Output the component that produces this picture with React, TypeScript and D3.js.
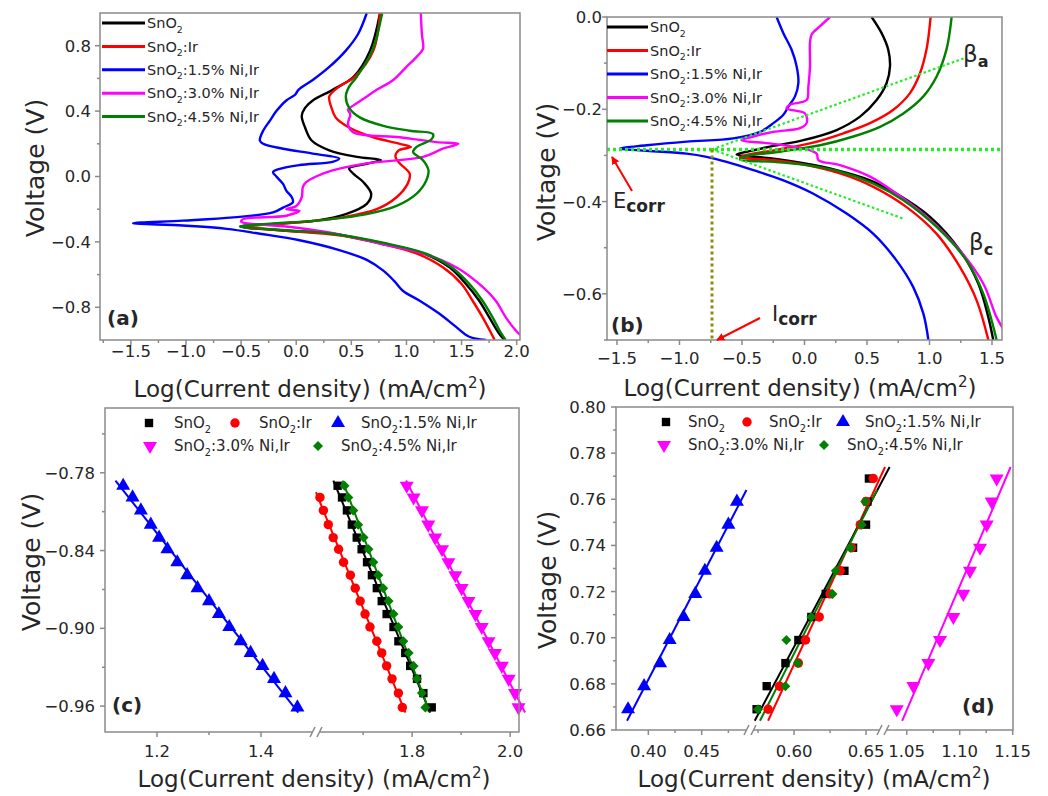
import React from "react";
import * as d3 from "d3";

type Pt = [number, number];

const FONT = "'DejaVu Sans', 'Liberation Sans', Arial, sans-serif";
const TXT = "#262626";
const AXC = "#8a8a8a";

const seriesLabels = ["SnO2", "SnO2:Ir", "SnO2:1.5% Ni,Ir", "SnO2:3.0% Ni,Ir", "SnO2:4.5% Ni,Ir"];
const seriesColors = ["#000000", "#ff0000", "#0000ff", "#ff00ff", "#008000"];

// ---------------- Panel (a): full polarization curves [logI, V]
const aSnO2: Pt[] = [[0.76,1.0],[0.67,0.77],[0.52,0.61],[0.33,0.53],[0.15,0.465],[0.08,0.42],[0.05,0.37],[0.08,0.30],[0.14,0.22],[0.30,0.16],[0.55,0.12],[0.77,0.10],[0.64,0.078],[0.48,0.05],[0.52,0.016],[0.61,-0.035],[0.68,-0.106],[0.64,-0.167],[0.45,-0.23],[0.18,-0.27],[-0.21,-0.29],[-0.51,-0.306],[-0.12,-0.33],[0.33,-0.35],[0.79,-0.41],[1.15,-0.47],[1.39,-0.555],[1.54,-0.657],[1.66,-0.76],[1.75,-0.86],[1.84,-0.96],[1.89,-1.0]];
const aIr: Pt[] = [[0.76,1.0],[0.70,0.77],[0.53,0.61],[0.39,0.55],[0.30,0.49],[0.32,0.42],[0.36,0.36],[0.48,0.30],[0.70,0.24],[0.94,0.20],[1.04,0.18],[0.93,0.16],[0.90,0.12],[0.94,0.08],[1.03,0.016],[1.01,-0.045],[0.91,-0.127],[0.73,-0.20],[0.42,-0.25],[0.03,-0.28],[-0.39,-0.30],[-0.48,-0.31],[-0.12,-0.33],[0.39,-0.36],[0.76,-0.41],[1.09,-0.47],[1.33,-0.555],[1.50,-0.657],[1.60,-0.76],[1.69,-0.86],[1.77,-0.96],[1.80,-1.0]];
const aNi15: Pt[] = [[0.64,1.0],[0.56,0.87],[0.45,0.77],[0.30,0.67],[0.15,0.59],[0.02,0.53],[-0.01,0.50],[-0.09,0.465],[-0.18,0.40],[-0.24,0.34],[-0.30,0.28],[-0.33,0.22],[-0.30,0.20],[-0.12,0.17],[0.15,0.14],[0.39,0.11],[0.33,0.09],[0.03,0.07],[-0.15,0.047],[-0.21,0.027],[-0.18,0.0],[-0.12,-0.045],[-0.09,-0.086],[-0.04,-0.127],[-0.03,-0.157],[-0.12,-0.19],[-0.21,-0.22],[-0.57,-0.25],[-1.03,-0.27],[-1.48,-0.286],[-1.03,-0.30],[-0.63,-0.32],[-0.33,-0.35],[0.03,-0.39],[0.39,-0.45],[0.64,-0.51],[0.79,-0.576],[0.89,-0.64],[0.97,-0.70],[1.12,-0.76],[1.30,-0.84],[1.45,-0.92],[1.57,-0.98],[1.72,-1.0]];
const aNi30: Pt[] = [[1.13,1.0],[1.14,0.87],[1.15,0.78],[1.09,0.73],[1.00,0.67],[0.88,0.59],[0.73,0.53],[0.61,0.475],[0.52,0.435],[0.47,0.41],[0.49,0.38],[0.47,0.32],[0.52,0.27],[0.94,0.24],[1.27,0.21],[1.47,0.20],[1.33,0.17],[1.15,0.12],[0.64,0.08],[0.33,0.037],[0.18,0.0],[0.09,-0.035],[0.06,-0.065],[0.05,-0.127],[0.0,-0.18],[-0.09,-0.20],[0.03,-0.21],[-0.09,-0.24],[-0.48,-0.26],[-0.50,-0.275],[-0.04,-0.31],[0.36,-0.35],[0.76,-0.41],[1.15,-0.47],[1.45,-0.555],[1.66,-0.657],[1.81,-0.76],[1.90,-0.86],[1.99,-0.94],[2.05,-0.98]];
const aNi45: Pt[] = [[0.78,1.0],[0.69,0.77],[0.55,0.61],[0.48,0.55],[0.45,0.49],[0.48,0.42],[0.58,0.36],[0.79,0.31],[1.03,0.28],[1.24,0.26],[1.23,0.23],[1.09,0.18],[1.06,0.15],[1.15,0.10],[1.20,0.037],[1.18,-0.024],[1.09,-0.106],[0.91,-0.18],[0.64,-0.23],[0.18,-0.27],[-0.27,-0.29],[-0.51,-0.306],[-0.06,-0.33],[0.33,-0.35],[0.82,-0.41],[1.17,-0.47],[1.41,-0.555],[1.57,-0.657],[1.69,-0.76],[1.78,-0.86],[1.86,-0.96],[1.90,-1.0]];
const aSeries = [aSnO2, aIr, aNi15, aNi30, aNi45];
const aXTicks = [-1.5, -1.0, -0.5, 0.0, 0.5, 1.0, 1.5, 2.0];
const aXMinor = [-1.75, -1.25, -0.75, -0.25, 0.25, 0.75, 1.25, 1.75];
const aYTicks = [-0.8, -0.4, 0.0, 0.4, 0.8];
const aYMinor = [-0.6, -0.2, 0.2, 0.6];

// ---------------- Panel (b): zoom around Ecorr
const bSnO2: Pt[] = [[0.537,0],[0.617,-0.035],[0.67,-0.071],[0.684,-0.107],[0.657,-0.143],[0.577,-0.18],[0.444,-0.216],[0.257,-0.245],[-0.009,-0.267],[-0.276,-0.281],[-0.463,-0.292],[-0.543,-0.298],[-0.276,-0.306],[-0.009,-0.317],[0.257,-0.332],[0.524,-0.354],[0.737,-0.383],[1.004,-0.433],[1.244,-0.506],[1.391,-0.578],[1.471,-0.651],[1.51,-0.70]];
const bIr: Pt[] = [[1.009,0],[0.977,-0.069],[0.924,-0.122],[0.844,-0.165],[0.711,-0.201],[0.524,-0.23],[0.311,-0.252],[0.044,-0.274],[-0.223,-0.288],[-0.463,-0.299],[-0.516,-0.304],[-0.249,-0.31],[0.017,-0.321],[0.284,-0.339],[0.551,-0.368],[0.817,-0.412],[1.057,-0.47],[1.244,-0.542],[1.377,-0.614],[1.471,-0.70]];
const bNi15: Pt[] = [[-0.223,0],[-0.169,-0.035],[-0.103,-0.071],[-0.063,-0.107],[-0.049,-0.143],[-0.076,-0.172],[-0.129,-0.194],[-0.169,-0.212],[-0.249,-0.23],[-0.356,-0.249],[-0.569,-0.263],[-0.943,-0.27],[-1.263,-0.278],[-1.476,-0.285],[-1.263,-0.29],[-0.943,-0.296],[-0.783,-0.303],[-0.623,-0.314],[-0.409,-0.332],[-0.169,-0.354],[0.071,-0.383],[0.337,-0.426],[0.551,-0.47],[0.737,-0.528],[0.871,-0.586],[0.951,-0.643],[0.991,-0.70]];
const bNi30: Pt[] = [[0.204,0],[0.124,-0.02],[0.057,-0.038],[0.044,-0.056],[0.044,-0.107],[0.031,-0.151],[0.017,-0.18],[-0.116,-0.19],[-0.143,-0.198],[0.004,-0.209],[0.017,-0.23],[-0.036,-0.241],[-0.249,-0.249],[-0.409,-0.259],[-0.503,-0.267],[-0.276,-0.274],[-0.009,-0.285],[0.097,-0.296],[0.111,-0.31],[0.284,-0.321],[0.524,-0.346],[0.737,-0.383],[0.977,-0.433],[1.244,-0.506],[1.431,-0.578],[1.537,-0.651],[1.6,-0.68]];
const bNi45: Pt[] = [[1.177,0],[1.137,-0.069],[1.057,-0.129],[0.951,-0.172],[0.791,-0.209],[0.604,-0.238],[0.391,-0.259],[0.124,-0.278],[-0.196,-0.292],[-0.489,-0.303],[-0.516,-0.309],[-0.249,-0.314],[0.017,-0.321],[0.284,-0.335],[0.551,-0.361],[0.791,-0.397],[1.057,-0.455],[1.297,-0.528],[1.431,-0.6],[1.537,-0.70]];
const bSeries = [bSnO2, bIr, bNi15, bNi30, bNi45];
const bTafelA: Pt[] = [[-0.74,-0.287],[1.28,-0.089]];
const bTafelC: Pt[] = [[-0.74,-0.287],[0.79,-0.437]];
const bEcorrLine: Pt[] = [[-1.58,-0.287],[1.58,-0.287]];
const bIcorrLine: Pt[] = [[-0.74,-0.287],[-0.74,-0.70]];
const bXTicks = [-1.5, -1.0, -0.5, 0.0, 0.5, 1.0, 1.5];
const bXMinor = [-1.25, -0.75, -0.25, 0.25, 0.75, 1.25];
const bYTicks = [-0.6, -0.4, -0.2, 0.0];
const bYMinor = [-0.7, -0.5, -0.3, -0.1];

// ---------------- Panel (c): cathodic Tafel region
const cV18 = [-0.790,-0.799,-0.809,-0.820,-0.830,-0.839,-0.849,-0.859,-0.869,-0.879,-0.889,-0.899,-0.910,-0.919,-0.929,-0.939,-0.950,-0.961];
const cV17 = [-0.799,-0.809,-0.820,-0.830,-0.839,-0.849,-0.859,-0.869,-0.879,-0.889,-0.899,-0.910,-0.919,-0.929,-0.939,-0.950,-0.961];
const cSnO2X = [1.648,1.657,1.667,1.677,1.687,1.697,1.708,1.718,1.728,1.738,1.748,1.762,1.772,1.786,1.796,1.810,1.823,1.840];
const cIrX = [1.612,1.619,1.629,1.639,1.650,1.660,1.674,1.684,1.694,1.704,1.714,1.728,1.738,1.748,1.759,1.772,1.780];
const cNi15X = [1.135,1.153,1.169,1.188,1.204,1.220,1.239,1.258,1.278,1.300,1.319,1.339,1.361,1.380,1.403,1.425,1.447,1.470];
const cNi30X = [1.789,1.803,1.820,1.833,1.847,1.861,1.874,1.888,1.901,1.915,1.929,1.942,1.956,1.969,1.983,1.997,2.010,2.017];
const cNi45X = [1.662,1.670,1.680,1.690,1.701,1.711,1.721,1.731,1.741,1.752,1.762,1.772,1.782,1.793,1.803,1.810,1.820,1.827];
const cYTicks = [-0.96, -0.90, -0.84, -0.78];
const cYMinor = [-0.93, -0.87, -0.81, -0.75];
const cXTicksL = [1.2, 1.4];
const cXMinorL = [1.3];
const cXTicksR = [1.8, 2.0];
const cXMinorR = [1.7, 1.9];

// ---------------- Panel (d): anodic Tafel region
const dV11 = [0.669,0.679,0.689,0.699,0.709,0.719,0.729,0.739,0.749,0.759,0.769];
const dV10 = [0.669,0.679,0.689,0.699,0.709,0.719,0.729,0.739,0.749,0.759];
const dSnO2X = [0.574,0.581,0.594,0.603,0.612,0.622,0.635,0.641,0.650,0.651,0.652];
const dIrX = [0.582,0.590,0.603,0.608,0.6175,0.625,0.632,0.640,0.646,0.650,0.655];
const dNi15X = [0.381,0.396,0.411,0.420,0.433,0.444,0.453,0.464,0.475,0.483];
const dNi30X = [1.0406,1.0563,1.0704,1.0814,1.094,1.1034,1.1097,1.1192,1.1255,1.1302,1.1349];
const dNi45X = [0.575,0.594,0.6027,0.5947,0.612,0.6267,0.629,0.6392,0.647,0.6495];
const dYTicks = [0.66, 0.68, 0.70, 0.72, 0.74, 0.76, 0.78, 0.80];
const dYMinor = [0.67, 0.69, 0.71, 0.73, 0.75, 0.77, 0.79];
const dXTicks1 = [0.40, 0.45];
const dXMinor1 = [0.425, 0.475];
const dXTicks2 = [0.60, 0.65];
const dXMinor2 = [0.575, 0.625];
const dXTicks3 = [1.05, 1.10, 1.15];
const dXMinor3 = [1.075, 1.125];

// ---------------- helpers
function fitLine(xs: number[], ys: number[], ext: number): Pt[] {
  const mx = d3.mean(xs) as number;
  const my = d3.mean(ys) as number;
  let sxy = 0, syy = 0;
  ys.forEach((y, i) => { sxy += (y - my) * (xs[i] - mx); syy += (y - my) * (y - my); });
  const b = sxy / syy;
  const a = mx - b * my;
  const [y0, y1] = d3.extent(ys) as [number, number];
  return [[a + b * (y0 - ext), y0 - ext], [a + b * (y1 + ext), y1 + ext]];
}

function SnLabel({ text, x, y, size }: { text: string; x: number; y: number; size: number }) {
  const rest = text.slice(4);
  return (
    <text x={x} y={y + size * 0.36} fontSize={size} fill={TXT}>
      SnO<tspan dy={size * 0.3} fontSize={size * 0.65}>2</tspan><tspan dy={-size * 0.3}>{rest}</tspan>
    </text>
  );
}

const markerTypes = [d3.symbolSquare, d3.symbolCircle, d3.symbolTriangle, d3.symbolTriangle, d3.symbolSquare];
const markerSizes = [70, 70, 85, 85, 50];
const markerRot = ["", "", "", " rotate(180)", " rotate(45)"];
function Marker({ i, x, y }: { i: number; x: number; y: number }) {
  const p = d3.symbol().type(markerTypes[i]).size(markerSizes[i])() as string;
  return <path d={p} transform={`translate(${x},${y})${markerRot[i]}`} fill={seriesColors[i]} />;
}

function YAxisTicks({ sy, x, major, minor, fmt, labelX, fs }: any) {
  return (
    <g>
      {major.map((v: number) => (
        <g key={"M" + v}>
          <line x1={x - 5} x2={x} y1={sy(v)} y2={sy(v)} stroke={AXC} strokeWidth={1.5} />
          <text x={labelX} y={sy(v) + fs * 0.36} textAnchor="end" fontSize={fs} fill={TXT}>{fmt(v)}</text>
        </g>
      ))}
      {minor.map((v: number) => (
        <line key={"m" + v} x1={x - 3} x2={x} y1={sy(v)} y2={sy(v)} stroke={AXC} strokeWidth={1.5} />
      ))}
    </g>
  );
}

function XAxisTicks({ sx, y, major, minor, fmt, labelY, fs }: any) {
  return (
    <g>
      {major.map((v: number) => (
        <g key={"M" + v}>
          <line x1={sx(v)} x2={sx(v)} y1={y} y2={y + 5} stroke={AXC} strokeWidth={1.5} />
          <text x={sx(v)} y={labelY} textAnchor="middle" fontSize={fs} fill={TXT}>{fmt(v)}</text>
        </g>
      ))}
      {minor.map((v: number) => (
        <line key={"m" + v} x1={sx(v)} x2={sx(v)} y1={y} y2={y + 3} stroke={AXC} strokeWidth={1.5} />
      ))}
    </g>
  );
}

function XTitle({ x, y }: { x: number; y: number }) {
  return (
    <text x={x} y={y} textAnchor="middle" fontSize={23} fill={TXT}>
      Log(Current density) (mA/cm<tspan dy={-9} fontSize={15}>2</tspan><tspan dy={9}>)</tspan>
    </text>
  );
}

function YTitle({ x, y }: { x: number; y: number }) {
  return (
    <text transform={`translate(${x},${y}) rotate(-90)`} textAnchor="middle" fontSize={25} fill={TXT}>
      Voltage (V)
    </text>
  );
}

function BreakMark({ x, y }: { x: number; y: number }) {
  return (
    <g>
      <rect x={x - 4} y={y - 3} width={8} height={6} fill="#fff" />
      <line x1={x - 6} y1={y + 5} x2={x - 1} y2={y - 5} stroke={AXC} strokeWidth={1.5} />
      <line x1={x + 1} y1={y + 5} x2={x + 6} y2={y - 5} stroke={AXC} strokeWidth={1.5} />
    </g>
  );
}

const f1 = d3.format(".1f");
const f2 = d3.format(".2f");

export default function App() {
  // panel (a)
  const ax = d3.scaleLinear().domain([-1.78, 2.03]).range([100, 520]);
  const ay = d3.scaleLinear().domain([-1, 1]).range([340, 13]);
  const la = d3.line<Pt>().x(d => ax(d[0])).y(d => ay(d[1])).curve(d3.curveCatmullRom.alpha(0.5));
  // panel (b)
  const bx = d3.scaleLinear().domain([-1.58, 1.58]).range([607, 1002]);
  const by = d3.scaleLinear().domain([-0.7, 0]).range([340, 17]);
  const lb = d3.line<Pt>().x(d => bx(d[0])).y(d => by(d[1])).curve(d3.curveCatmullRom.alpha(0.5));
  const lbStraight = d3.line<Pt>().x(d => bx(d[0])).y(d => by(d[1]));
  // panel (c)
  const cy = d3.scaleLinear().domain([-0.98, -0.73]).range([732, 408]);
  const cx1 = d3.scaleLinear().domain([1.1, 1.5]).range([105, 313]);
  const cx2 = d3.scaleLinear().domain([1.608, 2.018]).range([318, 519]);
  const cData = [
    { xs: cSnO2X, ys: cV18, sx: cx2 },
    { xs: cIrX, ys: cV17, sx: cx2 },
    { xs: cNi15X, ys: cV18, sx: cx1 },
    { xs: cNi30X, ys: cV18, sx: cx2 },
    { xs: cNi45X, ys: cV18, sx: cx2 },
  ];
  // panel (d)
  const dy = d3.scaleLinear().domain([0.66, 0.80]).range([730, 407]);
  const dx1 = d3.scaleLinear().domain([0.3697, 0.4934]).range([616, 748]);
  const dx2 = d3.scaleLinear().domain([0.5708, 0.6604]).range([752, 881]);
  const dx3 = d3.scaleLinear().domain([1.0295, 1.1503]).range([885, 1013]);
  const dData = [
    { xs: dSnO2X, ys: dV11, sx: dx2 },
    { xs: dIrX, ys: dV11, sx: dx2 },
    { xs: dNi15X, ys: dV10, sx: dx1 },
    { xs: dNi30X, ys: dV11, sx: dx3 },
    { xs: dNi45X, ys: dV10, sx: dx2 },
  ];
  const fitOrder = [2, 1, 0, 4, 3];

  const green = "#22ee22";

  return (
    <svg width={1048} height={796} style={{ position: "absolute", left: 0, top: 0, background: "#fff" }} fontFamily={FONT}>
      <defs>
        <clipPath id="clipA"><rect x={100} y={13} width={420} height={327} /></clipPath>
        <clipPath id="clipB"><rect x={607} y={17} width={395} height={323} /></clipPath>
        <marker id="arrRed" viewBox="0 0 10 10" refX={9} refY={5} markerWidth={4} markerHeight={4} orient="auto">
          <path d="M0,0 L10,5 L0,10 z" fill="#ff0000" />
        </marker>
      </defs>

      {/* ================= (a) ================= */}
      <g clipPath="url(#clipA)">
        {aSeries.map((s, i) => (
          <path key={i} d={la(s) as string} fill="none" stroke={seriesColors[i]} strokeWidth={2.4} strokeLinejoin="round" />
        ))}
      </g>
      <rect x={100} y={13} width={420} height={327} fill="none" stroke={AXC} strokeWidth={1.5} />
      <YAxisTicks sy={ay} x={100} major={aYTicks} minor={aYMinor} fmt={f1} labelX={91} fs={16.5} />
      <XAxisTicks sx={ax} y={340} major={aXTicks} minor={aXMinor} fmt={f1} labelY={357} fs={16.5} />
      {seriesLabels.map((t, i) => (
        <g key={i}>
          <line x1={102} x2={145} y1={23 + i * 23.4} y2={23 + i * 23.4} stroke={seriesColors[i]} strokeWidth={3} />
          <SnLabel text={t} x={147} y={23 + i * 23.4} size={14.5} />
        </g>
      ))}
      <text x={107} y={325} fontSize={20} fontWeight="bold" fill={TXT}>(a)</text>
      <XTitle x={310} y={397} />
      <YTitle x={44} y={168} />

      {/* ================= (b) ================= */}
      <g clipPath="url(#clipB)">
        {bSeries.map((s, i) => (
          <path key={i} d={lb(s) as string} fill="none" stroke={seriesColors[i]} strokeWidth={2.4} strokeLinejoin="round" />
        ))}
        <path d={lbStraight(bEcorrLine) as string} stroke={green} strokeWidth={3.5} strokeDasharray="3,3" fill="none" />
        <path d={lbStraight(bTafelA) as string} stroke={green} strokeWidth={2.2} strokeDasharray="2.5,2.5" fill="none" />
        <path d={lbStraight(bTafelC) as string} stroke={green} strokeWidth={2.2} strokeDasharray="2.5,2.5" fill="none" />
        <path d={lbStraight(bIcorrLine) as string} stroke="#8f8a12" strokeWidth={3} strokeDasharray="3,3" fill="none" />
      </g>
      <rect x={607} y={17} width={395} height={323} fill="none" stroke={AXC} strokeWidth={1.5} />
      <YAxisTicks sy={by} x={607} major={bYTicks} minor={bYMinor} fmt={f1} labelX={602} fs={16.5} />
      <XAxisTicks sx={bx} y={340} major={bXTicks} minor={bXMinor} fmt={f1} labelY={364} fs={16.5} />
      {seriesLabels.map((t, i) => (
        <g key={i}>
          <line x1={607} x2={648} y1={27 + i * 23.5} y2={27 + i * 23.5} stroke={seriesColors[i]} strokeWidth={3} />
          <SnLabel text={t} x={650} y={27 + i * 23.5} size={14.5} />
        </g>
      ))}
      <text x={611} y={332} fontSize={20} fontWeight="bold" fill={TXT}>(b)</text>
      <text x={963} y={62} fontSize={23} fill={TXT}>β<tspan dy={5} fontSize={16} fontWeight="bold">a</tspan></text>
      <text x={969} y={250} fontSize={23} fill={TXT}>β<tspan dy={5} fontSize={16} fontWeight="bold">c</tspan></text>
      <line x1={632} y1={191} x2={612} y2={157} stroke="#ff0000" strokeWidth={2} markerEnd="url(#arrRed)" />
      <text x={613} y={208} fontSize={21} fill={TXT}>E<tspan dy={4} fontSize={17} fontWeight="bold">corr</tspan></text>
      <line x1={760} y1={318} x2={717} y2={340} stroke="#ff0000" strokeWidth={2} markerEnd="url(#arrRed)" />
      <text x={772} y={321} fontSize={21} fill={TXT}>I<tspan dy={4} fontSize={17} fontWeight="bold">corr</tspan></text>
      <XTitle x={800} y={396} />
      <YTitle x={555} y={172} />

      {/* ================= (c) ================= */}
      {fitOrder.map(i => {
        const s = cData[i];
        const [p0, p1] = fitLine(s.xs, s.ys, 0.004);
        return <line key={"cf" + i} x1={s.sx(p0[0])} y1={cy(p0[1])} x2={s.sx(p1[0])} y2={cy(p1[1])} stroke={seriesColors[i]} strokeWidth={2} />;
      })}
      {fitOrder.map(i => {
        const s = cData[i];
        return <g key={"cm" + i}>{s.xs.map((x, k) => <Marker key={k} i={i} x={s.sx(x)} y={cy(s.ys[k])} />)}</g>;
      })}
      <rect x={105} y={408} width={414} height={324} fill="none" stroke={AXC} strokeWidth={1.5} />
      <YAxisTicks sy={cy} x={105} major={cYTicks} minor={cYMinor} fmt={f2} labelX={95} fs={16.5} />
      <XAxisTicks sx={cx1} y={732} major={cXTicksL} minor={cXMinorL} fmt={f1} labelY={757} fs={16.5} />
      <XAxisTicks sx={cx2} y={732} major={cXTicksR} minor={cXMinorR} fmt={f1} labelY={757} fs={16.5} />
      <BreakMark x={316} y={732} />
      {[0, 1, 2].map(i => (
        <g key={"cl" + i}>
          <Marker i={i} x={[149, 235, 338][i]} y={423} />
          <SnLabel text={seriesLabels[i]} x={[174, 259, 361][i]} y={423} size={15} />
        </g>
      ))}
      {[3, 4].map((i, k) => (
        <g key={"cl" + i}>
          <Marker i={i} x={[150, 318][k]} y={446} />
          <SnLabel text={seriesLabels[i]} x={[174, 341][k]} y={446} size={15} />
        </g>
      ))}
      <text x={112} y={712} fontSize={20} fontWeight="bold" fill={TXT}>(c)</text>
      <XTitle x={314} y={787} />
      <YTitle x={40} y={562} />

      {/* ================= (d) ================= */}
      {fitOrder.map(i => {
        const s = dData[i];
        const [p0, p1] = fitLine(s.xs, s.ys, 0.005);
        return <line key={"df" + i} x1={s.sx(p0[0])} y1={dy(p0[1])} x2={s.sx(p1[0])} y2={dy(p1[1])} stroke={seriesColors[i]} strokeWidth={2} />;
      })}
      {[2, 3, 0, 1, 4].map(i => {
        const s = dData[i];
        return <g key={"dm" + i}>{s.xs.map((x, k) => <Marker key={k} i={i} x={s.sx(x)} y={dy(s.ys[k])} />)}</g>;
      })}
      <rect x={616} y={407} width={397} height={323} fill="none" stroke={AXC} strokeWidth={1.5} />
      <YAxisTicks sy={dy} x={616} major={dYTicks} minor={dYMinor} fmt={f2} labelX={606} fs={16.5} />
      <XAxisTicks sx={dx1} y={730} major={dXTicks1} minor={dXMinor1} fmt={f2} labelY={757} fs={16.5} />
      <XAxisTicks sx={dx2} y={730} major={dXTicks2} minor={dXMinor2} fmt={f2} labelY={757} fs={16.5} />
      <XAxisTicks sx={dx3} y={730} major={dXTicks3} minor={dXMinor3} fmt={f2} labelY={757} fs={16.5} />
      <BreakMark x={750} y={730} />
      <BreakMark x={883} y={730} />
      {[0, 1, 2].map(i => (
        <g key={"dl" + i}>
          <Marker i={i} x={[666, 747, 843][i]} y={422} />
          <SnLabel text={seriesLabels[i]} x={[688, 769, 865][i]} y={422} size={15} />
        </g>
      ))}
      {[3, 4].map((i, k) => (
        <g key={"dl" + i}>
          <Marker i={i} x={[664, 824][k]} y={445} />
          <SnLabel text={seriesLabels[i]} x={[688, 847][k]} y={445} size={15} />
        </g>
      ))}
      <text x={962} y={713} fontSize={20} fontWeight="bold" fill={TXT}>(d)</text>
      <XTitle x={814} y={787} />
      <YTitle x={556} y={580} />
    </svg>
  );
}
